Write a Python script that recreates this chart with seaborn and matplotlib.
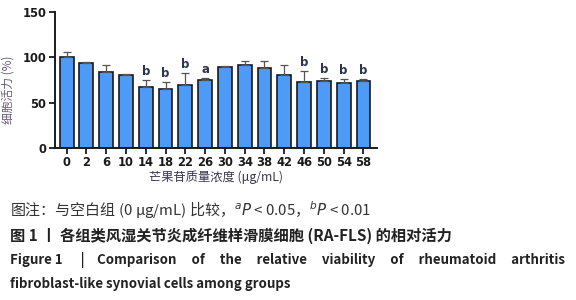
import numpy as np
import pandas as pd
import matplotlib
matplotlib.use("Agg")
import matplotlib.pyplot as plt
import seaborn as sns

# 芒果苷质量浓度 (μg/mL)
doses = ["0", "2", "6", "10", "14", "18", "22", "26", "30", "34", "38", "42", "46", "50", "54", "58"]
viability = [100, 94, 84, 81, 67, 65, 69, 75, 89, 91, 88, 81, 73, 74, 72, 74]
sd = [6, 1, 8, 1, 8, 8, 14, 2, 1, 5, 8, 10, 12, 3, 4, 2]
marks = ["", "", "", "", "b", "b", "b", "a", "", "", "", "", "b", "b", "b", "b"]

sns.set_theme(style="ticks")
plt.rcParams['font.family'] = ['Noto Sans CJK SC', 'DejaVu Sans']

df = pd.DataFrame({"dose": doses, "viability": viability})

fig = plt.figure(figsize=(5.76, 3.0), dpi=100)
ax = fig.add_axes([0.095, 0.507, 0.56, 0.453])

sns.barplot(data=df, x="dose", y="viability", color="#4E9BF7", saturation=1,
            edgecolor="#1a1a1a", linewidth=1.2, width=0.7, errorbar=None, ax=ax)
pos = np.arange(len(doses))
ax.errorbar(pos, viability, yerr=[np.zeros(len(sd)), sd], fmt="none",
            ecolor="#555555", elinewidth=0.9, capsize=3, capthick=0.9, zorder=1)

for x, v, e, m in zip(pos, viability, sd, marks):
    if m:
        ax.text(x, v + e + 2, m, ha="center", va="bottom", fontsize=8.5,
                fontweight="bold", color="#2c3550", family=['DejaVu Sans'])

ax.set_ylim(0, 150)
ax.set_yticks([0, 50, 100, 150])
ax.set_xlim(-0.6, 15.7)
ax.set_xlabel("芒果苷质量浓度 (μg/mL)", fontsize=8.8, color="#3b3550", labelpad=1)
ax.set_ylabel("细胞活力 (%)", fontsize=8.5, color="#6a5a78")
ax.yaxis.set_label_coords(-0.125, 0.43)
ax.tick_params(axis="both", length=4, width=1.3, labelsize=8.3, pad=2, colors="#1a1a1a")
for lab in ax.get_xticklabels() + ax.get_yticklabels():
    lab.set_fontweight("bold")
    lab.set_family(['DejaVu Sans'])
for s in ["left", "bottom"]:
    ax.spines[s].set_linewidth(1.4)
    ax.spines[s].set_color("#1a1a1a")
sns.despine(ax=ax)

fig.text(0.017, 0.30, "图注：与空白组 (0 μg/mL) 比较，$^{a}$$\\it{P}$ < 0.05，$^{b}$$\\it{P}$ < 0.01",
         fontsize=10.8, color="#333333", va="center")
fig.text(0.017, 0.213, "图 1 丨 各组类风湿关节炎成纤维样滑膜细胞 (RA-FLS) 的相对活力",
         fontsize=11, color="#222222", fontweight="bold", va="center")
fig.text(0.017, 0.133, "Figure 1      |",
         fontsize=9.6, color="#222222", fontweight="bold", va="center")
fig.text(0.981, 0.133, "Comparison     of     the     relative     viability     of     rheumatoid     arthritis",
         fontsize=9.6, color="#222222", fontweight="bold", va="center", ha="right")
fig.text(0.017, 0.053, "fibroblast-like synovial cells among groups",
         fontsize=9.6, color="#222222", fontweight="bold", va="center")

fig.savefig("out.png", dpi=100)
